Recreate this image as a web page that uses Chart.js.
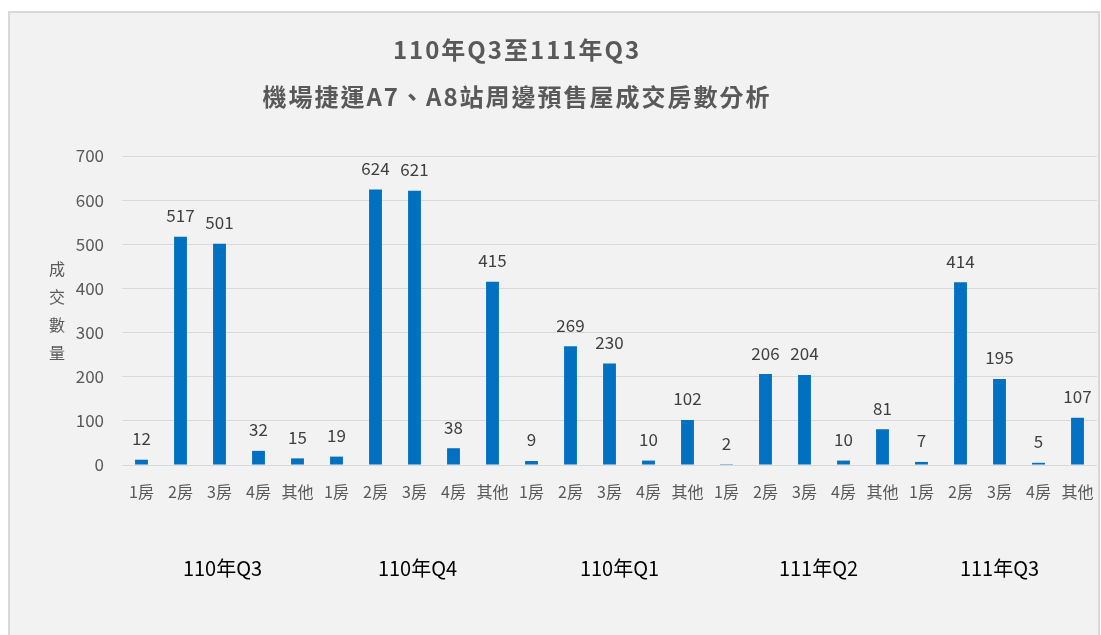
<!DOCTYPE html>
<html>
<head>
<meta charset="utf-8">
<script src="https://cdn.jsdelivr.net/npm/chart.js@4/dist/chart.umd.min.js"></script>
<style>
  html, body { margin: 0; padding: 0; background: #fff; }
  #wrap { width: 1101px; height: 635px; position: relative; }
</style>
</head>
<body>
<div id="wrap"><canvas id="chart" width="1101" height="635"></canvas></div>
<script>
// chart data
const titleLines = ['110年Q3至111年Q3', '機場捷運A7、A8站周邊預售屋成交房數分析'];
const yTitle = ['成', '交', '數', '量'];
const roomTypes = ['1房', '2房', '3房', '4房', '其他'];
const quarters = ['110年Q3', '110年Q4', '110年Q1', '111年Q2', '111年Q3'];
const q1Values = [12, 517, 501, 32, 15];
const q2Values = [19, 624, 621, 38, 415];
const q3Values = [9, 269, 230, 10, 102];
const q4Values = [2, 206, 204, 10, 81];
const q5Values = [7, 414, 195, 5, 107];

const FONT = '"Noto Sans CJK TC", "Noto Sans", sans-serif';

const labels = [];
quarters.forEach(() => roomTypes.forEach(r => labels.push(r)));
const values = [].concat(q1Values, q2Values, q3Values, q4Values, q5Values);

// background box, titles, y title, group labels, bar values
const decor = {
  id: 'decor',
  beforeDraw(c) {
    const ctx = c.ctx;
    ctx.save();
    ctx.fillStyle = '#ffffff';
    ctx.fillRect(0, 0, c.width, c.height);
    ctx.fillStyle = '#f2f2f2';
    ctx.fillRect(9, 12, 1090, 630);
    ctx.strokeStyle = '#d9d9d9';
    ctx.lineWidth = 2;
    ctx.strokeRect(9, 12, 1090, 630);
    ctx.restore();
  },
  afterDraw(c) {
    const ctx = c.ctx;
    const x = c.scales.x;
    const area = c.chartArea;
    ctx.save();
    ctx.textAlign = 'center';
    ctx.textBaseline = 'middle';

    ctx.fillStyle = '#595959';
    ctx.font = 'bold 24px ' + FONT;
    ctx.letterSpacing = '2px';
    ctx.fillText(titleLines[0], 517, 50);
    ctx.fillText(titleLines[1], 517, 97);
    ctx.letterSpacing = '0px';

    ctx.font = '16px ' + FONT;
    const mid = (area.top + area.bottom) / 2;
    yTitle.forEach((ch, i) => {
      ctx.fillText(ch, 57, mid + (i - 1.5) * 28);
    });

    // group labels sit under the middle bar, nudged like the original
    const nudge = [3, 3, 10, 14, 0];
    ctx.fillStyle = '#000000';
    ctx.font = '20px ' + FONT;
    quarters.forEach((q, i) => {
      const cx = x.getPixelForValue(i * roomTypes.length + 2);
      ctx.fillText(q, cx + nudge[i], 568);
    });

    ctx.fillStyle = '#404040';
    ctx.font = '17px ' + FONT;
    const meta = c.getDatasetMeta(0);
    meta.data.forEach((bar, i) => {
      ctx.fillText(String(values[i]), bar.x, bar.y - 21);
    });
    ctx.restore();
  }
};

new Chart(document.getElementById('chart'), {
  type: 'bar',
  data: {
    labels: labels,
    datasets: [{
      data: values,
      backgroundColor: '#0070c0',
      barPercentage: 0.33,
      categoryPercentage: 1
    }]
  },
  options: {
    responsive: false,
    animation: false,
    layout: { padding: { left: 0, right: 4, top: 156, bottom: 0 } },
    plugins: {
      legend: { display: false },
      tooltip: { enabled: false },
      title: { display: false }
    },
    scales: {
      x: {
        grid: { display: false, drawTicks: false },
        border: { display: false },
        ticks: {
          color: '#595959',
          font: { family: FONT, size: 16 },
          padding: 17,
          maxRotation: 0,
          autoSkip: false
        },
        afterFit(axis) {
          axis.height = 170;
          axis.paddingLeft = 0;
          axis.paddingRight = 0;
        }
      },
      y: {
        min: 0,
        max: 700,
        grid: { color: '#d9d9d9', lineWidth: 1, drawTicks: false },
        border: { display: false },
        ticks: {
          stepSize: 100,
          color: '#595959',
          font: { family: FONT, size: 17 },
          padding: 18
        },
        afterFit(axis) { axis.width = 122; }
      }
    }
  },
  plugins: [decor]
});
</script>
</body>
</html>
